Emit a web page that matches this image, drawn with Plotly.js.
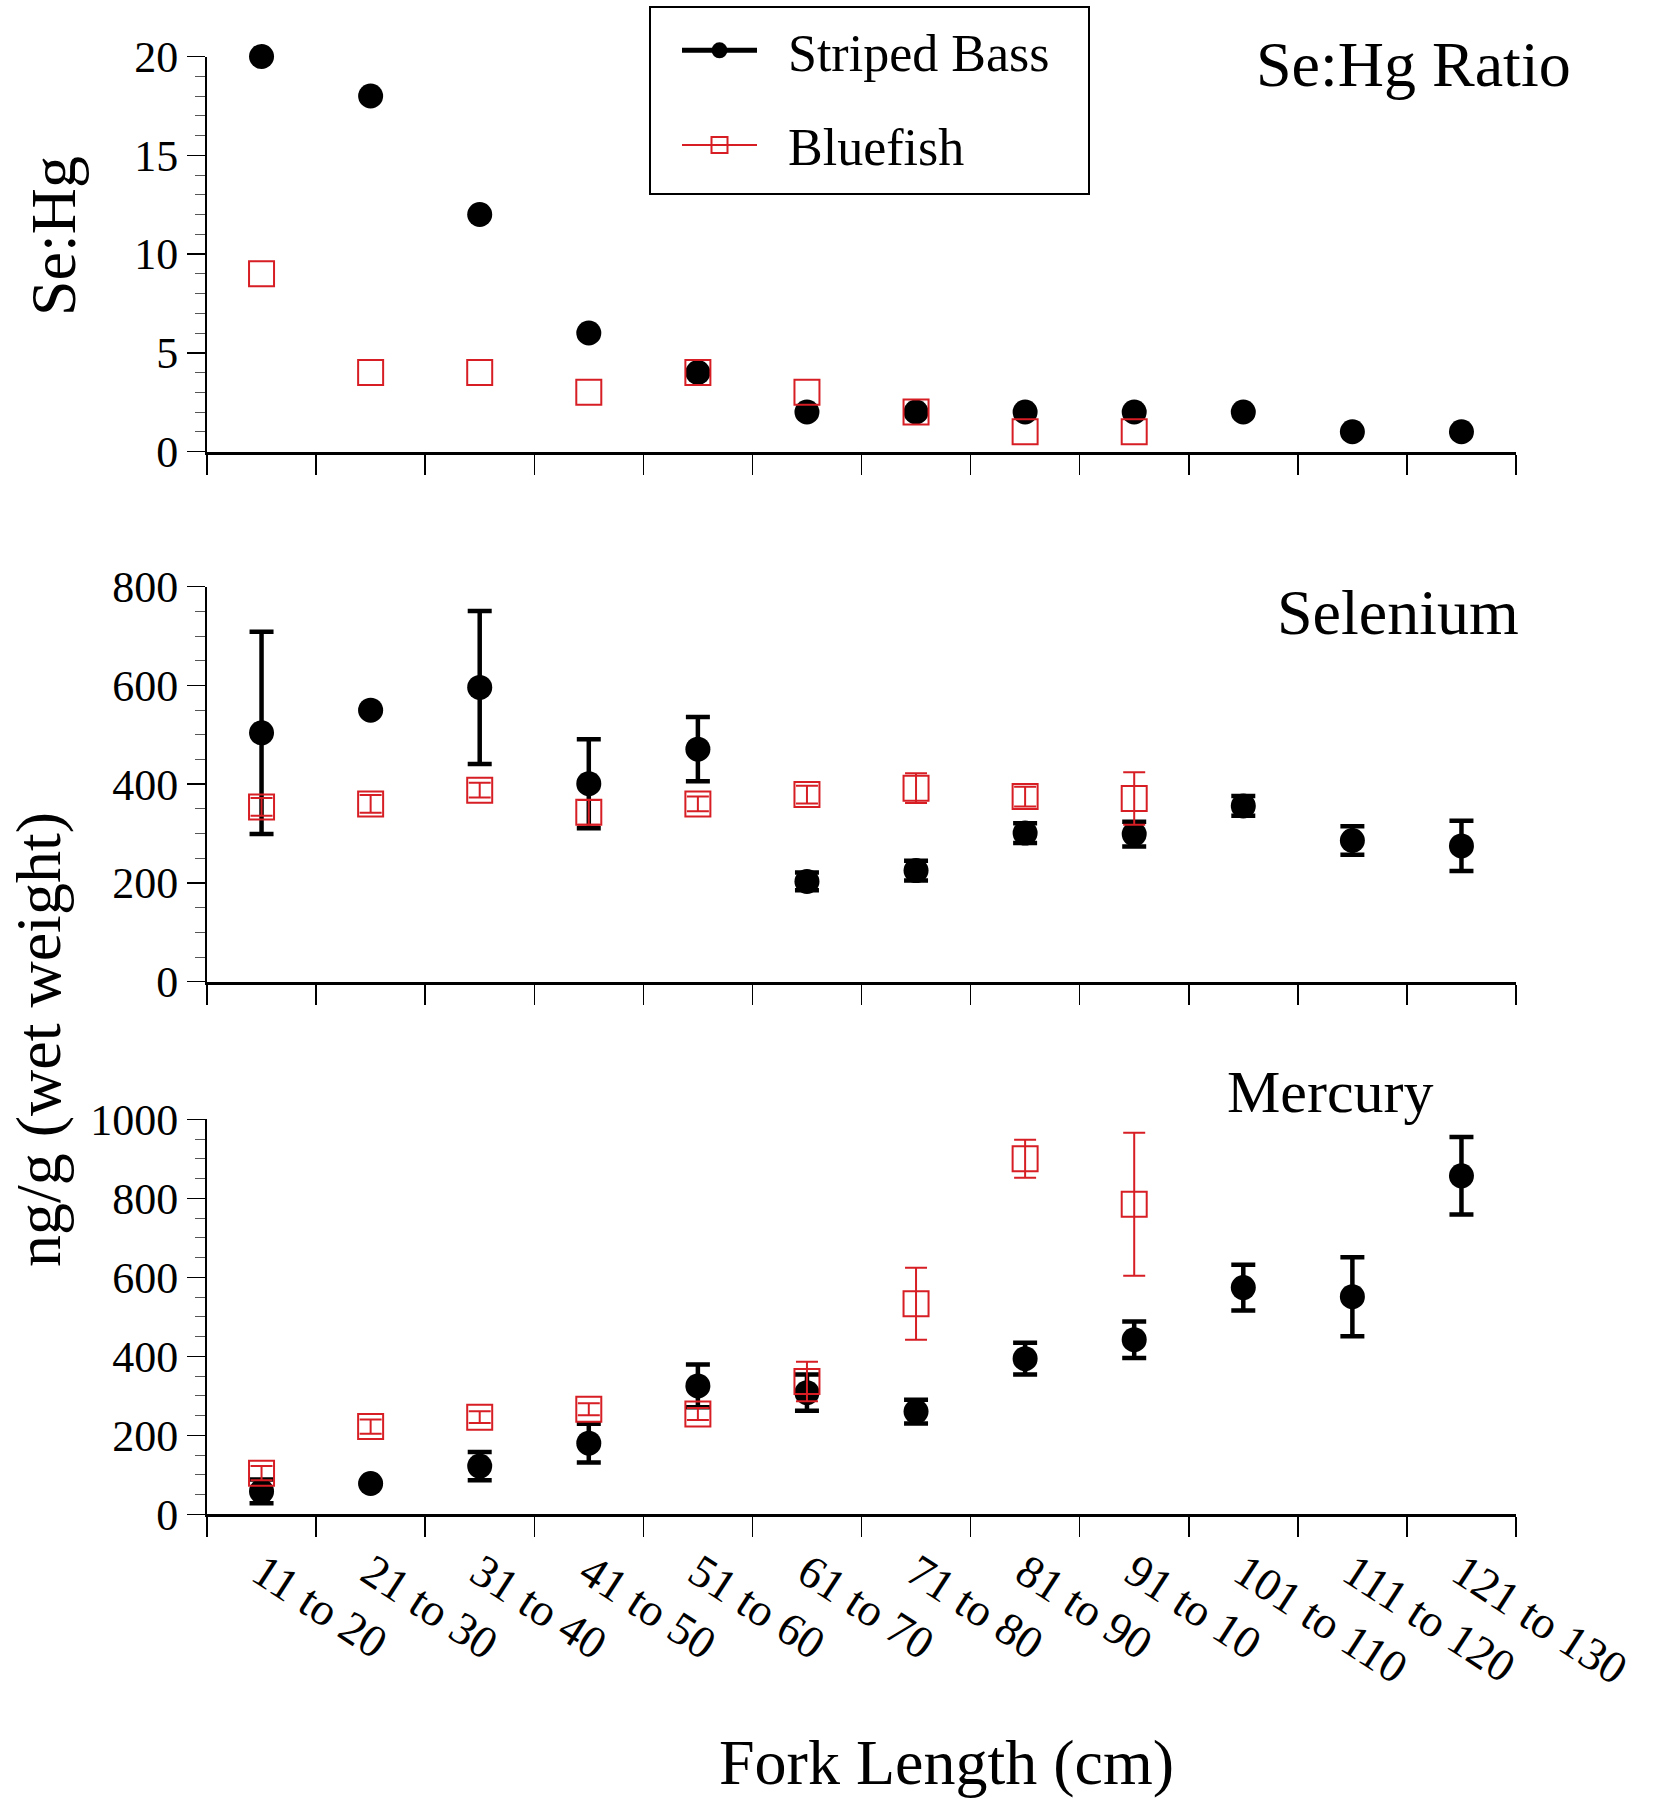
<!DOCTYPE html>
<html>
<head>
<meta charset="utf-8">
<script src="https://cdn.plot.ly/plotly-3.0.1.min.js"></script>
<style>html,body{margin:0;padding:0;background:#fff;}#chart{width:1657px;height:1800px;}</style>
</head>
<body>
<div id="chart"></div>
<script>
// ---- data ----
const categories = ['11 to 20','21 to 30','31 to 40','41 to 50','51 to 60','61 to 70','71 to 80','81 to 90','91 to 10','101 to 110','111 to 120','121 to 130'];
const blueCategories = categories.slice(0, 9);

const ratioBass = [20, 18, 12, 6, 4, 2, 2, 2, 2, 2, 1, 1];
const ratioBlue = [9, 4, 4, 3, 4, 3, 2, 1, 1];

const seBass    = [504, 550, 596, 401, 471, 203, 225, 301, 299, 356, 286, 275];
const seBassErr = [205, null, 155, 90, 65, 18, 20, 20, 25, 20, 29, 51];
const seBlue    = [354, 360, 388, 343, 360, 379, 392, 375, 371];
const seBlueErr = [18, 18, 15, 25, 15, 18, 30, 20, 53];

const hgBass    = [58, 78, 122, 180, 325, 308, 260, 394, 442, 574, 551, 857];
const hgBassErr = [30, null, 36, 49, 54, 46, 30, 40, 46, 58, 100, 98];
const hgBlue    = [104, 222, 246, 266, 254, 336, 533, 900, 785];
const hgBlueErr = [18, 18, 15, 15, 15, 50, 91, 48, 181];

const seriesNames = ['Striped Bass', 'Bluefish'];

// ---- style ----
const FONT = 'Liberation Serif, Times New Roman, serif';
const BLACK = '#000000';
const RED = 'rgb(214,30,36)';
const W = 1657, H = 1800, ML = 207, MR = 141, MT = 56, MB = 285;
const PW = W - ML - MR, PH = H - MT - MB;
const px2x = p => (p - ML) / PW;
const px2y = p => (H - MB - p) / PH;
const dom = (top, bottom) => [px2y(bottom), px2y(top)];
const NB = '\u00a0\u00a0';

function bass(y, err, xa, ya) {
  const t = {
    x: categories, y: y, xaxis: xa, yaxis: ya, type: 'scatter', mode: 'markers',
    showlegend: false, cliponaxis: false,
    marker: {symbol: 'circle', size: 25, color: BLACK}
  };
  if (err) t.error_y = {type: 'data', array: err, visible: true, color: BLACK, thickness: 4.5, width: 12};
  return t;
}
function blue(y, err, xa, ya) {
  const t = {
    x: blueCategories, y: y, xaxis: xa, yaxis: ya, type: 'scatter', mode: 'markers',
    showlegend: false, cliponaxis: false,
    marker: {symbol: 'square-open', size: 25, color: RED, line: {color: RED, width: 2}}
  };
  if (err) t.error_y = {type: 'data', array: err, visible: true, color: RED, thickness: 2, width: 11};
  return t;
}

const traces = [
  bass(ratioBass, null, 'x', 'y'),
  blue(ratioBlue, null, 'x', 'y'),
  bass(seBass, seBassErr, 'x2', 'y2'),
  blue(seBlue, seBlueErr, 'x2', 'y2'),
  bass(hgBass, hgBassErr, 'x3', 'y3'),
  blue(hgBlue, hgBlueErr, 'x3', 'y3'),
  // legend entries
  {x: [null], y: [null], xaxis: 'x', yaxis: 'y', type: 'scatter', mode: 'lines+markers', name: NB + seriesNames[0],
   legendgroup: 'a', line: {color: BLACK, width: 5}, marker: {symbol: 'circle', size: 22, color: BLACK}},
  {x: [null], y: [null], xaxis: 'x', yaxis: 'y', type: 'scatter', mode: 'lines+markers', name: NB + seriesNames[1],
   legendgroup: 'b', line: {color: RED, width: 2}, marker: {symbol: 'square-open', size: 22, color: RED, line: {color: RED, width: 2}}}
];

function xax(showLabels, anchor) {
  return {
    type: 'category', categoryorder: 'array', categoryarray: categories,
    range: [-0.5, categories.length - 0.5], domain: [0, 1], anchor: anchor, automargin: false,
    showline: true, linecolor: BLACK, linewidth: 3, mirror: false,
    ticks: 'outside', tickson: 'boundaries', ticklen: 20, tickwidth: 1.5, tickcolor: BLACK,
    showgrid: false, zeroline: false,
    showticklabels: showLabels, tickangle: 33, ticklabelstandoff: 10,
    tickfont: {family: FONT, size: 46, color: BLACK}
  };
}
function yax(range, dtick, minorDtick, domain, anchor) {
  return {
    range: range, domain: domain, anchor: anchor, tick0: 0, dtick: dtick, automargin: false,
    showline: true, linecolor: BLACK, linewidth: 2,
    ticks: 'outside', ticklen: 18, tickwidth: 1.5, tickcolor: BLACK,
    minor: {ticks: 'outside', ticklen: 10, tickwidth: 1, tickcolor: '#555', dtick: minorDtick, tick0: 0, showgrid: false},
    showgrid: false, zeroline: false, ticklabelstandoff: 0,
    tickfont: {family: FONT, size: 44, color: BLACK}
  };
}

function label(text, x, y, size, angle) {
  return {text: text, xref: 'paper', yref: 'paper', x: px2x(x), y: px2y(y),
          xanchor: 'center', yanchor: 'middle', showarrow: false, textangle: angle || 0,
          font: {family: FONT, size: size, color: BLACK}};
}

const layout = {
  width: W, height: H,
  margin: {l: ML, r: MR, t: MT, b: MB, autoexpand: false},
  paper_bgcolor: '#ffffff', plot_bgcolor: '#ffffff',
  font: {family: FONT, color: BLACK},
  showlegend: true,
  legend: {
    xref: 'container', yref: 'container',
    x: 677 / W, y: 1 - 10 / H, xanchor: 'left', yanchor: 'top',
    borderwidth: 0, bgcolor: 'rgba(0,0,0,0)',
    font: {family: FONT, size: 52, color: BLACK},
    itemwidth: 75, tracegroupgap: 24, traceorder: 'grouped'
  },
  shapes: [
    {type: 'rect', xref: 'paper', yref: 'paper', x0: px2x(650), x1: px2x(1089), y0: px2y(194), y1: px2y(7),
     line: {color: BLACK, width: 2}, fillcolor: 'rgba(0,0,0,0)', layer: 'above'}
  ],
  xaxis: xax(false, 'y'),
  xaxis2: xax(false, 'y2'),
  xaxis3: xax(true, 'y3'),
  yaxis: yax([0, 20], 5, 1, dom(56.5, 451.5), 'x'),
  yaxis2: yax([0, 800], 200, 50, dom(586.7, 981.7), 'x2'),
  yaxis3: yax([0, 1000], 200, 50, dom(1119.3, 1514.3), 'x3'),
  annotations: [
    label('Se:Hg Ratio', 1413, 64, 64),
    label('Selenium', 1398, 612, 64),
    label('Mercury', 1330, 1092, 60),
    label('Fork Length (cm)', 946, 1762, 64),
    label('Se:Hg', 53, 236, 64, -90),
    label('ng/g (wet weight)', 38, 1040, 64, -90)
  ]
};

Plotly.newPlot('chart', traces, layout, {displayModeBar: false, staticPlot: true});
</script>
</body>
</html>
